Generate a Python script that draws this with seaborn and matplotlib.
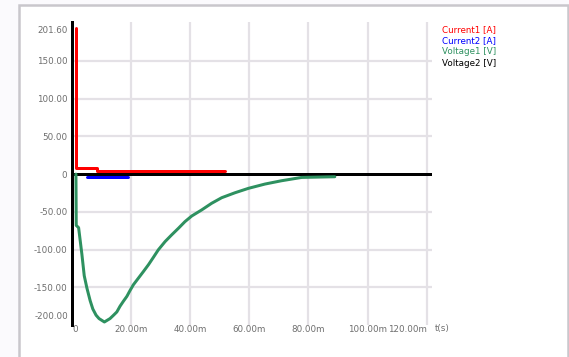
import numpy as np
import pandas as pd
import matplotlib
matplotlib.use("Agg")
import matplotlib.pyplot as plt
from matplotlib.patches import Rectangle
from matplotlib.transforms import ScaledTranslation
import seaborn as sns

# ---- series (time in ms, values in A / V) ----
red_t = [1.5, 1.5, 8.6, 51.7]
red_v = [193.0, 8.0, 3.5, 3.5]

blue_t = [5.1, 19.2]
blue_v = [-4.0, -4.0]

green_t = [1.5, 1.6, 2.4, 3.5, 4.3, 5.2, 6.3, 7.2, 8.3, 9.3, 11.1, 13.0, 14.2,
           15.3, 16.4, 17.5, 18.7, 19.8, 20.9, 22.6, 24.3, 26.0, 27.7, 29.3,
           31.6, 33.8, 36.1, 38.3, 40.6, 43.9, 47.3, 50.7, 55.2, 59.7, 65.3,
           70.9, 77.7, 88.9]
green_v = [0.0, -68.0, -71.0, -106.0, -134.7, -151.0, -167.8, -178.8, -187.0,
           -191.5, -196.0, -191.5, -187.0, -182.7, -175.0, -168.6, -162.0,
           -154.0, -146.6, -137.8, -129.0, -120.0, -110.0, -100.4, -89.4,
           -80.6, -71.8, -63.0, -55.5, -47.6, -38.7, -31.3, -24.7, -18.9,
           -13.2, -8.8, -4.4, -3.5]

black_t = [0.0, 121.7]
black_v = [0.0, 0.0]

x_ticks = [0, 20, 40, 60, 80, 100, 120]
x_tick_labels = ["0", "20.00m", "40.00m", "60.00m", "80.00m", "100.00m", "120.00m"]
y_ticks = [-150, -100, -50, 0, 50, 100, 150]
y_tick_labels = ["-150.00", "-100.00", "-50.00", "0", "50.00", "100.00", "150.00"]
y_min, y_max = -200.0, 201.6
y_min_label, y_max_label = "-200.00", "201.60"
x_unit_label = "t(s)"

legend_names = ["Current1 [A]", "Current2 [A]", "Voltage1 [V]", "Voltage2 [V]"]
legend_colors = ["#ff0000", "#0000ff", "#2e9160", "#000000"]

sns.set_theme(style="white")
plt.rcParams["font.family"] = ["DejaVu Sans"]

W, H = 569, 357
fig = plt.figure(figsize=(W / 100, H / 100), dpi=100)
fig.patch.set_facecolor("#fbfafd")

# card frame
fig.add_artist(Rectangle((19 / W, -0.05), (567.5 - 19) / W, 1.05 - 5 / H,
                         transform=fig.transFigure, facecolor="white",
                         edgecolor="#c9c7cc", linewidth=1.8, zorder=0))

left, right, top, bottom = 71.5, 432, 22, 325
ax = fig.add_axes([left / W, 1 - bottom / H, (right - left) / W, (bottom - top) / H])
ax.set_facecolor("none")

px = 0.72  # points per pixel at 100 dpi
lw = 3 * px

series = [
    (black_t, black_v, legend_colors[3], None),
    (red_t, red_v, legend_colors[0], "steps-post"),
    (blue_t, blue_v, legend_colors[1], None),
    (green_t, green_v, legend_colors[2], None),
]
for t, v, c, ds in series:
    df = pd.DataFrame({"t": t, "v": v})
    kw = dict(drawstyle=ds) if ds else {}
    sns.lineplot(data=df, x="t", y="v", ax=ax, color=c, linewidth=lw,
                 estimator=None, sort=False, legend=False, **kw)

ax.set_xlim(0, 121.7)
ax.set_ylim(y_min, y_max)
ax.set_xlabel("")
ax.set_ylabel("")

# grid
grid_c = "#e4e1e6"
for xv in x_ticks[1:]:
    ax.axvline(xv, color=grid_c, linewidth=2.2 * px, zorder=0)
for yv in y_ticks:
    if yv != 0:
        ax.axhline(yv, color=grid_c, linewidth=2.2 * px, zorder=0)

for s in ["top", "right", "bottom"]:
    ax.spines[s].set_visible(False)
ax.spines["left"].set_color("black")
ax.spines["left"].set_linewidth(lw)

txt_c = "#6e6e6e"
fs = 6.3
ax.set_yticks(y_ticks)
ax.set_yticklabels(y_tick_labels, fontsize=fs, color=txt_c)
ax.set_xticks(x_ticks)
ax.set_xticklabels(x_tick_labels, fontsize=fs, color=txt_c)
ax.tick_params(axis="both", length=0, pad=3)
ax.tick_params(axis="x", pad=0)
# last x label sits left of its tick
xl = ax.get_xticklabels()
xl[-1].set_ha("right")
xl[0].set_transform(xl[0].get_transform() + ScaledTranslation(3.5 / 100, 0, fig.dpi_scale_trans))

# axis limit labels
ax.text(-3.5 / (right - left), 1.0, y_max_label, transform=ax.transAxes,
        ha="right", va="top", fontsize=fs, color=txt_c,
        ) .set_transform(ax.transAxes + ScaledTranslation(0, -4 / 100, fig.dpi_scale_trans))
ax.text(-3.5 / (right - left), 0.0, y_min_label, transform=ax.transAxes,
        ha="right", va="bottom", fontsize=fs, color=txt_c,
        ).set_transform(ax.transAxes + ScaledTranslation(0, 4 / 100, fig.dpi_scale_trans))
fig.text(435 / W, 1 - 329 / H, x_unit_label, ha="left", va="center",
         fontsize=fs, color=txt_c)

# legend entries
for i, (name, c) in enumerate(zip(legend_names, legend_colors)):
    fig.text(441.5 / W, 1 - (30 + 11 * i) / H, name, ha="left", va="center",
             fontsize=fs, color=c)

fig.savefig("out.png", dpi=100, facecolor=fig.get_facecolor())
